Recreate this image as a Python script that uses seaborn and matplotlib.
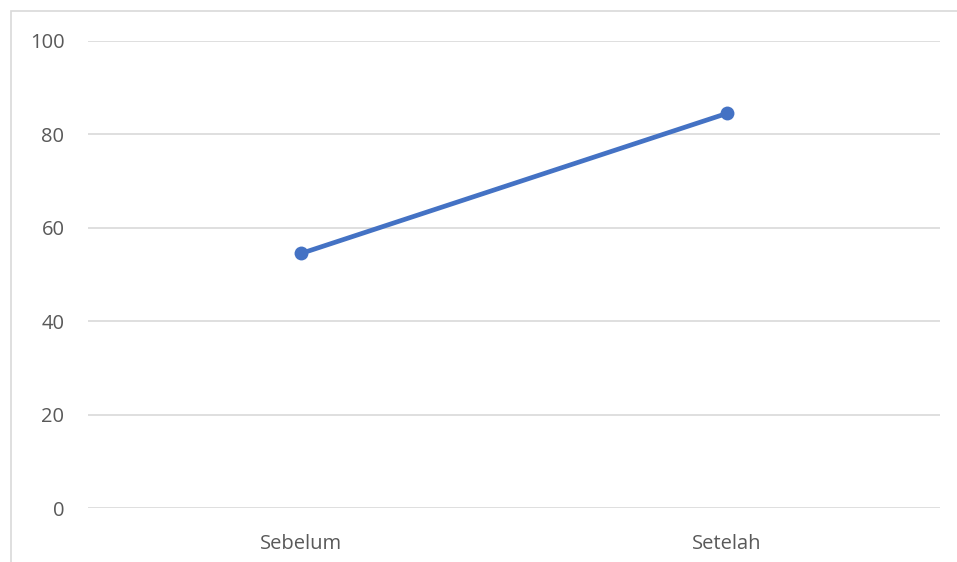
import matplotlib
matplotlib.use("Agg")
import matplotlib.pyplot as plt
import seaborn as sns
import pandas as pd
from matplotlib.patches import Rectangle

categories = ["Sebelum", "Setelah"]
values = [54.5, 84.5]
yticks = [0, 20, 40, 60, 80, 100]

sns.set_theme(style="white")
plt.rcParams['font.family'] = ['Open Sans', 'DejaVu Sans']

fig = plt.figure(figsize=(9.57, 5.62), dpi=100)
ax = fig.add_axes([88/957, 54/562, (940-88)/957, (508-41)/562])

df = pd.DataFrame({"kategori": categories, "nilai": values})
sns.lineplot(data=df, x="kategori", y="nilai", ax=ax, color="#4472C4",
             linewidth=3.4, marker="o", markersize=10, markeredgewidth=0,
             sort=False)

ax.set_xlim(-0.5, 1.5)
ax.set_ylim(0, 100)
ax.set_yticks(yticks)
ax.set_yticklabels([str(t) for t in yticks])
ax.yaxis.grid(True, color="#d9d9d9", linewidth=1.2)
ax.set_axisbelow(True)
for s in ax.spines.values():
    s.set_visible(False)
ax.set_xlabel("")
ax.set_ylabel("")
ax.tick_params(axis="both", length=0, labelsize=14.5, labelcolor="#595959")
ax.tick_params(axis="y", pad=17)
ax.tick_params(axis="x", pad=19)

fig.patches.append(Rectangle((11/957, -0.1), 1.2, 1 - 11/562 + 0.1,
                             transform=fig.transFigure, fill=False,
                             edgecolor="#d9d9d9", linewidth=1.2, zorder=0))

fig.savefig("out.png", dpi=100)
